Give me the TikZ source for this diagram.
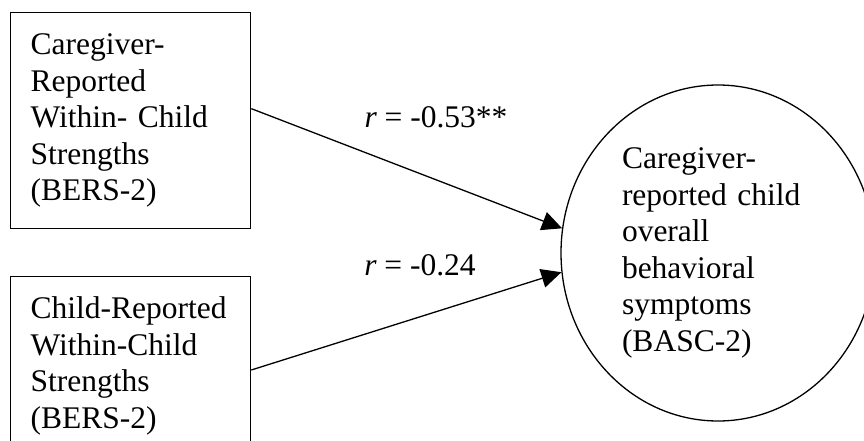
\documentclass[tikz,border=0pt]{standalone}
\usepackage{fontspec}
\setmainfont{Liberation Serif}
\usetikzlibrary{arrows.meta,positioning,shapes.geometric}
\tikzset{
  doboz/.style={draw,line width=1.3pt,anchor=north west,text width=200pt,
    inner xsep=20pt,inner ysep=20pt,align=left},
  ovalis/.style={draw,ellipse,line width=1.3pt,minimum width=314pt,
    minimum height=336pt,inner sep=0pt,text width=192pt,align=left},
  hegy/.style={line width=1.3pt,-{Triangle[length=20pt,width=19pt]}},
  cimke/.style={anchor=base},
}
\newcommand{\betu}{\fontsize{31.5}{36.5}\selectfont}

\begin{document}
\begin{tikzpicture}[x=1pt,y=-1pt,font=\betu]
  \path[use as bounding box,clip] (0,0) rectangle (864,441);
  \node[doboz,minimum height=216pt] (cg) at (10,12) {Caregiver-\\Reported\\Within- Child\\Strengths\\(BERS-2)};
  \node[doboz] (ch) at (10,276) {Child-Reported\\Within-Child\\Strengths\\(BERS-2)};
  \node[ovalis] (bs) at (718,253) {Caregiver-\\reported child\\overall\\behavioral\\symptoms\\(BASC-2)};
  \node[cimke] (r1) at (436,128) {\textit{r} = -0.53**};
  \node[cimke] (r2) at (420,275) {\textit{r} = -0.24};
  \draw[hegy] ([yshift=12pt]cg.east) -- (bs.171);
  \draw[hegy] ([yshift=-94pt]ch.north east) -- (bs.187);
\end{tikzpicture}
\end{document}
